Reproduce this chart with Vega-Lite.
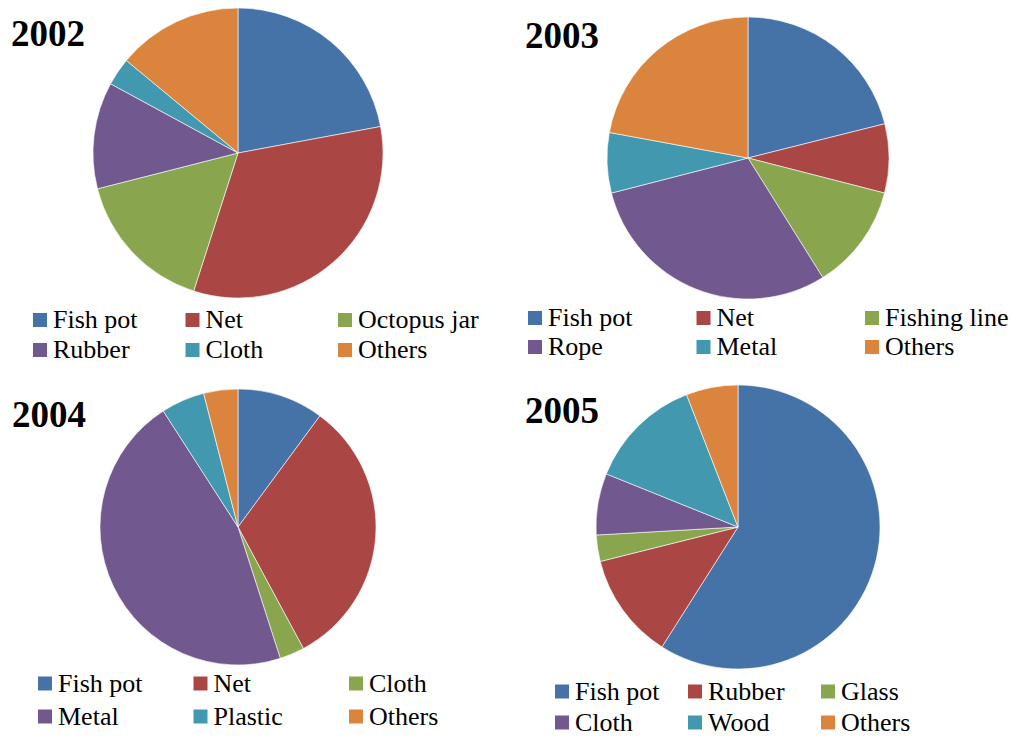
{
  "$schema": "https://vega.github.io/schema/vega-lite/v6.json",
  "padding": 0,
  "background": "white",
  "config": {
    "view": {"stroke": null},
    "title": {"font": "Liberation Serif", "fontSize": 37, "fontWeight": "bold", "color": "black", "anchor": "start", "frame": "group", "baseline": "alphabetic"},
    "legend": {"orient": "none", "direction": "horizontal", "columns": 3, "gridAlign": "all", "symbolType": "square", "symbolSize": 196, "symbolStrokeWidth": 0, "labelFont": "Liberation Serif", "labelFontSize": 26, "labelColor": "black", "labelOffset": 0, "labelLimit": 300, "padding": 0, "title": null}
  },
  "columns": 2,
  "bounds": "flush",
  "spacing": {"row": 61, "column": 34},
  "resolve": {"scale": {"color": "independent", "theta": "independent"}, "legend": {"color": "independent"}},
  "concat": [
    {
      "title": {"text": "2002", "offset": -54, "dx": 11},
      "width": 476, "height": 306,
      "data": {"values": [
        {"cat": "Fish pot", "v": 22.1, "o": 1},
        {"cat": "Net", "v": 32.9, "o": 2},
        {"cat": "Octopus jar", "v": 16.1, "o": 3},
        {"cat": "Rubber", "v": 11.9, "o": 4},
        {"cat": "Cloth", "v": 3.1, "o": 5},
        {"cat": "Others", "v": 14.0, "o": 6}
      ]},
      "mark": {"type": "arc", "radius": 145, "stroke": "white", "strokeWidth": 0.6},
      "encoding": {
        "theta": {"field": "v", "type": "quantitative", "stack": true},
        "order": {"field": "o", "type": "quantitative"},
        "color": {"field": "cat", "type": "nominal",
          "scale": {"domain": ["Fish pot", "Net", "Octopus jar", "Rubber", "Cloth", "Others"], "range": ["#4572A7", "#AA4643", "#89A54E", "#71588F", "#4198AF", "#DB843D"]},
          "legend": {"legendX": 27, "legendY": 307, "columnPadding": 5.5, "rowPadding": 4}}
      }
    },
    {
      "title": {"text": "2003", "offset": -56, "dx": 15},
      "width": 476, "height": 316,
      "data": {"values": [
        {"cat": "Fish pot", "v": 21.1, "o": 1},
        {"cat": "Net", "v": 7.9, "o": 2},
        {"cat": "Fishing line", "v": 12.1, "o": 3},
        {"cat": "Rope", "v": 29.9, "o": 4},
        {"cat": "Metal", "v": 6.9, "o": 5},
        {"cat": "Others", "v": 22.1, "o": 6}
      ]},
      "mark": {"type": "arc", "radius": 141, "stroke": "white", "strokeWidth": 0.6},
      "encoding": {
        "theta": {"field": "v", "type": "quantitative", "stack": true},
        "order": {"field": "o", "type": "quantitative"},
        "color": {"field": "cat", "type": "nominal",
          "scale": {"domain": ["Fish pot", "Net", "Fishing line", "Rope", "Metal", "Others"], "range": ["#4572A7", "#AA4643", "#89A54E", "#71588F", "#4198AF", "#DB843D"]},
          "legend": {"legendX": 12, "legendY": 305, "columnPadding": 18.5, "rowPadding": 3}}
      }
    },
    {
      "title": {"text": "2004", "offset": -58, "dx": 12},
      "width": 476, "height": 300,
      "data": {"values": [
        {"cat": "Fish pot", "v": 10.1, "o": 1},
        {"cat": "Net", "v": 32.0, "o": 2},
        {"cat": "Cloth", "v": 2.9, "o": 3},
        {"cat": "Metal", "v": 45.8, "o": 4},
        {"cat": "Plastic", "v": 5.1, "o": 5},
        {"cat": "Others", "v": 4.0, "o": 6}
      ]},
      "mark": {"type": "arc", "radius": 138, "stroke": "white", "strokeWidth": 0.6},
      "encoding": {
        "theta": {"field": "v", "type": "quantitative", "stack": true},
        "order": {"field": "o", "type": "quantitative"},
        "color": {"field": "cat", "type": "nominal",
          "scale": {"domain": ["Fish pot", "Net", "Cloth", "Metal", "Plastic", "Others"], "range": ["#4572A7", "#AA4643", "#89A54E", "#71588F", "#4198AF", "#DB843D"]},
          "legend": {"legendX": 32, "legendY": 293.5, "columnPadding": 44.5, "rowPadding": 7}}
      }
    },
    {
      "title": {"text": "2005", "offset": -54, "dx": 15},
      "width": 456, "height": 300,
      "data": {"values": [
        {"cat": "Fish pot", "v": 59.0, "o": 1},
        {"cat": "Rubber", "v": 12.1, "o": 2},
        {"cat": "Glass", "v": 3.0, "o": 3},
        {"cat": "Cloth", "v": 7.0, "o": 4},
        {"cat": "Wood", "v": 13.0, "o": 5},
        {"cat": "Others", "v": 5.9, "o": 6}
      ]},
      "mark": {"type": "arc", "radius": 142, "stroke": "white", "strokeWidth": 0.6},
      "encoding": {
        "theta": {"field": "v", "type": "quantitative", "stack": true},
        "order": {"field": "o", "type": "quantitative"},
        "color": {"field": "cat", "type": "nominal",
          "scale": {"domain": ["Fish pot", "Rubber", "Glass", "Cloth", "Wood", "Others"], "range": ["#4572A7", "#AA4643", "#89A54E", "#71588F", "#4198AF", "#DB843D"]},
          "legend": {"legendX": 39, "legendY": 301.5, "columnPadding": 22, "rowPadding": 5}}
      }
    }
  ]
}
